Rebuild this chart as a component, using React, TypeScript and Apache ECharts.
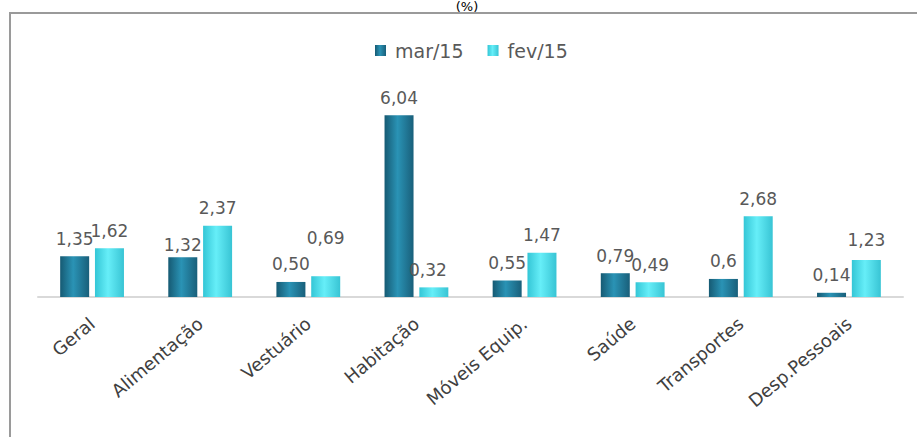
import React, { useEffect, useRef } from "react";
import * as echarts from "echarts";

const categories = ["Geral", "Alimentação", "Vestuário", "Habitação", "Móveis Equip.", "Saúde", "Transportes", "Desp.Pessoais"];
const marValues = [1.35, 1.32, 0.5, 6.04, 0.55, 0.79, 0.6, 0.14];
const fevValues = [1.62, 2.37, 0.69, 0.32, 1.47, 0.49, 2.68, 1.23];
const marLabels = ["1,35", "1,32", "0,50", "6,04", "0,55", "0,79", "0,6", "0,14"];
const fevLabels = ["1,62", "2,37", "0,69", "0,32", "1,47", "0,49", "2,68", "1,23"];
const seriesNames = ["mar/15", "fev/15"];

const marOffsets: Record<number, [number, number]> = { 1: [0, 5] };
const fevOffsets: Record<number, [number, number]> = { 2: [0, -21], 3: [-6, 0], 7: [0, -2] };

export default function App() {
  const ref = useRef<HTMLDivElement>(null);
  useEffect(() => {
    document.body.style.margin = "0";
    const chart = echarts.init(ref.current!, null, { renderer: "svg" });
    const marGrad = new echarts.graphic.LinearGradient(0, 0, 1, 0, [
      { offset: 0, color: "#165a73" },
      { offset: 0.45, color: "#2a93b5" },
      { offset: 1, color: "#195f7a" },
    ]);
    const fevGrad = new echarts.graphic.LinearGradient(0, 0, 1, 0, [
      { offset: 0, color: "#34c6d6" },
      { offset: 0.45, color: "#66eef8" },
      { offset: 1, color: "#38c4d4" },
    ]);
    const labelBase = {
      show: true,
      position: "top" as const,
      distance: 9,
      fontFamily: "DejaVu Sans",
      fontSize: 17,
      color: "#595959",
    };
    const mkData = (vals: number[], offs: Record<number, [number, number]>) =>
      vals.map((v, i) => (offs[i] ? { value: v, label: { offset: offs[i] } } : { value: v }));
    chart.setOption({
      animation: false,
      backgroundColor: "#ffffff",
      legend: {
        data: seriesNames,
        top: 36,
        left: 370,
        itemWidth: 11,
        itemHeight: 11,
        itemGap: 24,
        icon: "rect",
        textStyle: { fontFamily: "DejaVu Sans", fontSize: 19, color: "#595959", padding: [0, 0, 0, 4] },
      },
      grid: { left: 38, right: 14, top: 56.2, bottom: 140 },
      xAxis: {
        type: "category",
        data: categories,
        axisLine: { show: true, lineStyle: { color: "#d9d9d9", width: 2 } },
        axisTick: { show: false },
        axisLabel: {
          rotate: 40,
          margin: 24,
          interval: 0,
          fontFamily: "DejaVu Sans",
          fontSize: 18,
          color: "#404040",
        },
      },
      yAxis: { type: "value", min: 0, max: 8, show: false, splitLine: { show: false } },
      series: [
        {
          name: seriesNames[0],
          type: "bar",
          barWidth: 29,
          barGap: "20%",
          data: mkData(marValues, marOffsets),
          itemStyle: { color: marGrad },
          label: { ...labelBase, formatter: (p: any) => marLabels[p.dataIndex] },
        },
        {
          name: seriesNames[1],
          type: "bar",
          barWidth: 29,
          data: mkData(fevValues, fevOffsets),
          itemStyle: { color: fevGrad },
          label: { ...labelBase, formatter: (p: any) => fevLabels[p.dataIndex] },
        },
      ],
      graphic: [
        { type: "line", shape: { x1: 10, y1: 13, x2: 10, y2: 437 }, style: { stroke: "#9a9a9a", lineWidth: 2 } },
        { type: "line", shape: { x1: 9, y1: 13, x2: 917, y2: 13 }, style: { stroke: "#9a9a9a", lineWidth: 2 } },
        {
          type: "text",
          x: 467,
          y: 0,
          style: { text: "(%)", fontFamily: "DejaVu Sans", fontSize: 13, fill: "#000000", textAlign: "center", textVerticalAlign: "top" },
        },
      ],
    });
    return () => chart.dispose();
  }, []);
  return <div ref={ref} style={{ width: 917, height: 437 }} />;
}
